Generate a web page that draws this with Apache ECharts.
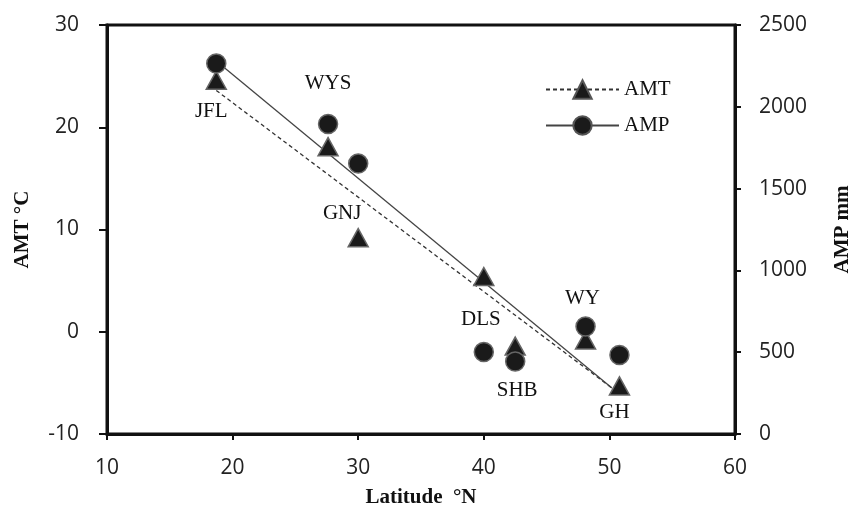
<!DOCTYPE html>
<html><head><meta charset="utf-8">
<script src="https://cdn.jsdelivr.net/npm/echarts@6/dist/echarts.min.js"></script>
<style>html,body{margin:0;padding:0;background:#fff}#c{width:848px;height:505px}</style>
</head><body><div id="c"></div>
<script>
var siteNames = ['JFL','WYS','GNJ','DLS','SHB','WY','GH'];
var latitude = [18.7, 27.6, 30.0, 40.0, 42.5, 48.1, 50.8];
var amtValues = [24.6, 18.1, 9.2, 5.4, -1.4, -0.8, -5.3];
var ampValues = [2265, 1895, 1653, 501, 443, 657, 483];
var amtTrend = [[18.7, 23.6], [50.2, -5.5]];
var ampTrend = [[18.7, 2280], [50.2, 281]];
var xTicks = [10, 20, 30, 40, 50, 60];
var amtTicks = [-10, 0, 10, 20, 30];
var ampTicks = [0, 500, 1000, 1500, 2000, 2500];

// label offsets relative to the triangle marker (layout only)
var labelOffset = {JFL:[-5,31], WYS:[0,-63], GNJ:[-16,-24], DLS:[-3,43], SHB:[2,44], WY:[-3,-41], GH:[-5,27]};

var serif = '"Liberation Serif","Times New Roman",serif';
var sans = '"Open Sans","Noto Sans",sans-serif';

var amtPts = latitude.map(function(x,i){
  return {value:[x, amtValues[i]], label:{show:true, formatter:siteNames[i], offset:labelOffset[siteNames[i]]}};
});
var ampPts = latitude.map(function(x,i){ return [x, ampValues[i]]; });
function plain(v){ return String(v); }

var chart = echarts.init(document.getElementById('c'), null, {renderer:'canvas'});
chart.setOption({
  animation:false,
  grid:{left:107, right:113, top:25, bottom:71, outerBoundsMode:'none', containLabel:false,
        show:true, borderColor:'#111', borderWidth:3, backgroundColor:'transparent'},
  legend:{
    data:['AMT','AMP'], orient:'vertical', left:540, top:74, itemWidth:73, itemHeight:23, itemGap:15,
    textStyle:{fontFamily:serif, fontSize:21, color:'#111'}
  },
  xAxis:{
    type:'value', min:10, max:60, interval:10,
    name:'Latitude  °N', nameLocation:'middle', nameGap:53,
    nameTextStyle:{fontFamily:serif, fontWeight:'bold', fontSize:21, color:'#111'},
    axisLine:{show:true, onZero:false, lineStyle:{color:'#111', width:3}},
    axisTick:{show:true, inside:false, length:6, lineStyle:{color:'#111', width:2}},
    axisLabel:{fontFamily:sans, fontSize:21, color:'#222', margin:24, formatter:plain},
    splitLine:{show:false}
  },
  yAxis:[{
    type:'value', min:-10, max:30, interval:10, position:'left',
    name:'AMT °C', nameLocation:'middle', nameGap:74, nameRotate:90,
    nameTextStyle:{fontFamily:serif, fontWeight:'bold', fontSize:21, color:'#111'},
    axisLine:{show:true, onZero:false, lineStyle:{color:'#111', width:3}},
    axisTick:{show:true, inside:false, length:8, lineStyle:{color:'#111', width:2}},
    axisLabel:{fontFamily:sans, fontSize:21, color:'#222', margin:28, formatter:plain},
    splitLine:{show:false}
  },{
    type:'value', min:0, max:2500, interval:500, position:'right',
    name:'AMP mm', nameLocation:'middle', nameGap:97, nameRotate:90,
    nameTextStyle:{fontFamily:serif, fontWeight:'bold', fontSize:21, color:'#111'},
    axisLine:{show:true, onZero:false, lineStyle:{color:'#111', width:3}},
    axisTick:{show:true, inside:false, length:6, lineStyle:{color:'#111', width:2}},
    axisLabel:{fontFamily:sans, fontSize:21, color:'#222', margin:24, formatter:plain},
    splitLine:{show:false}
  }],
  series:[
    {name:'AMT', type:'line', yAxisIndex:0, data:amtTrend, symbol:'triangle', showSymbol:false, z:1,
     lineStyle:{type:[4,3], width:1.3, color:'#333'}, itemStyle:{color:'#1a1a1a', borderColor:'#555', borderWidth:1, opacity:1}},
    {name:'AMP', type:'line', yAxisIndex:1, data:ampTrend, symbol:'circle', showSymbol:false, z:1,
     lineStyle:{type:'solid', width:1.3, color:'#444'}, itemStyle:{color:'#1a1a1a', borderColor:'#555', borderWidth:1, opacity:1}},
    {name:'AMT points', type:'scatter', yAxisIndex:0, data:amtPts, symbol:'triangle', symbolSize:[20,18], z:3,
     itemStyle:{color:'#1a1a1a', borderColor:'#666', borderWidth:1.5, opacity:1},
     label:{position:'inside', fontFamily:serif, fontSize:21, color:'#111'}},
    {name:'AMP points', type:'scatter', yAxisIndex:1, data:ampPts, symbol:'circle', symbolSize:19, z:4,
     itemStyle:{color:'#1a1a1a', borderColor:'#666', borderWidth:1.5, opacity:1}}
  ]
});
</script></body></html>
